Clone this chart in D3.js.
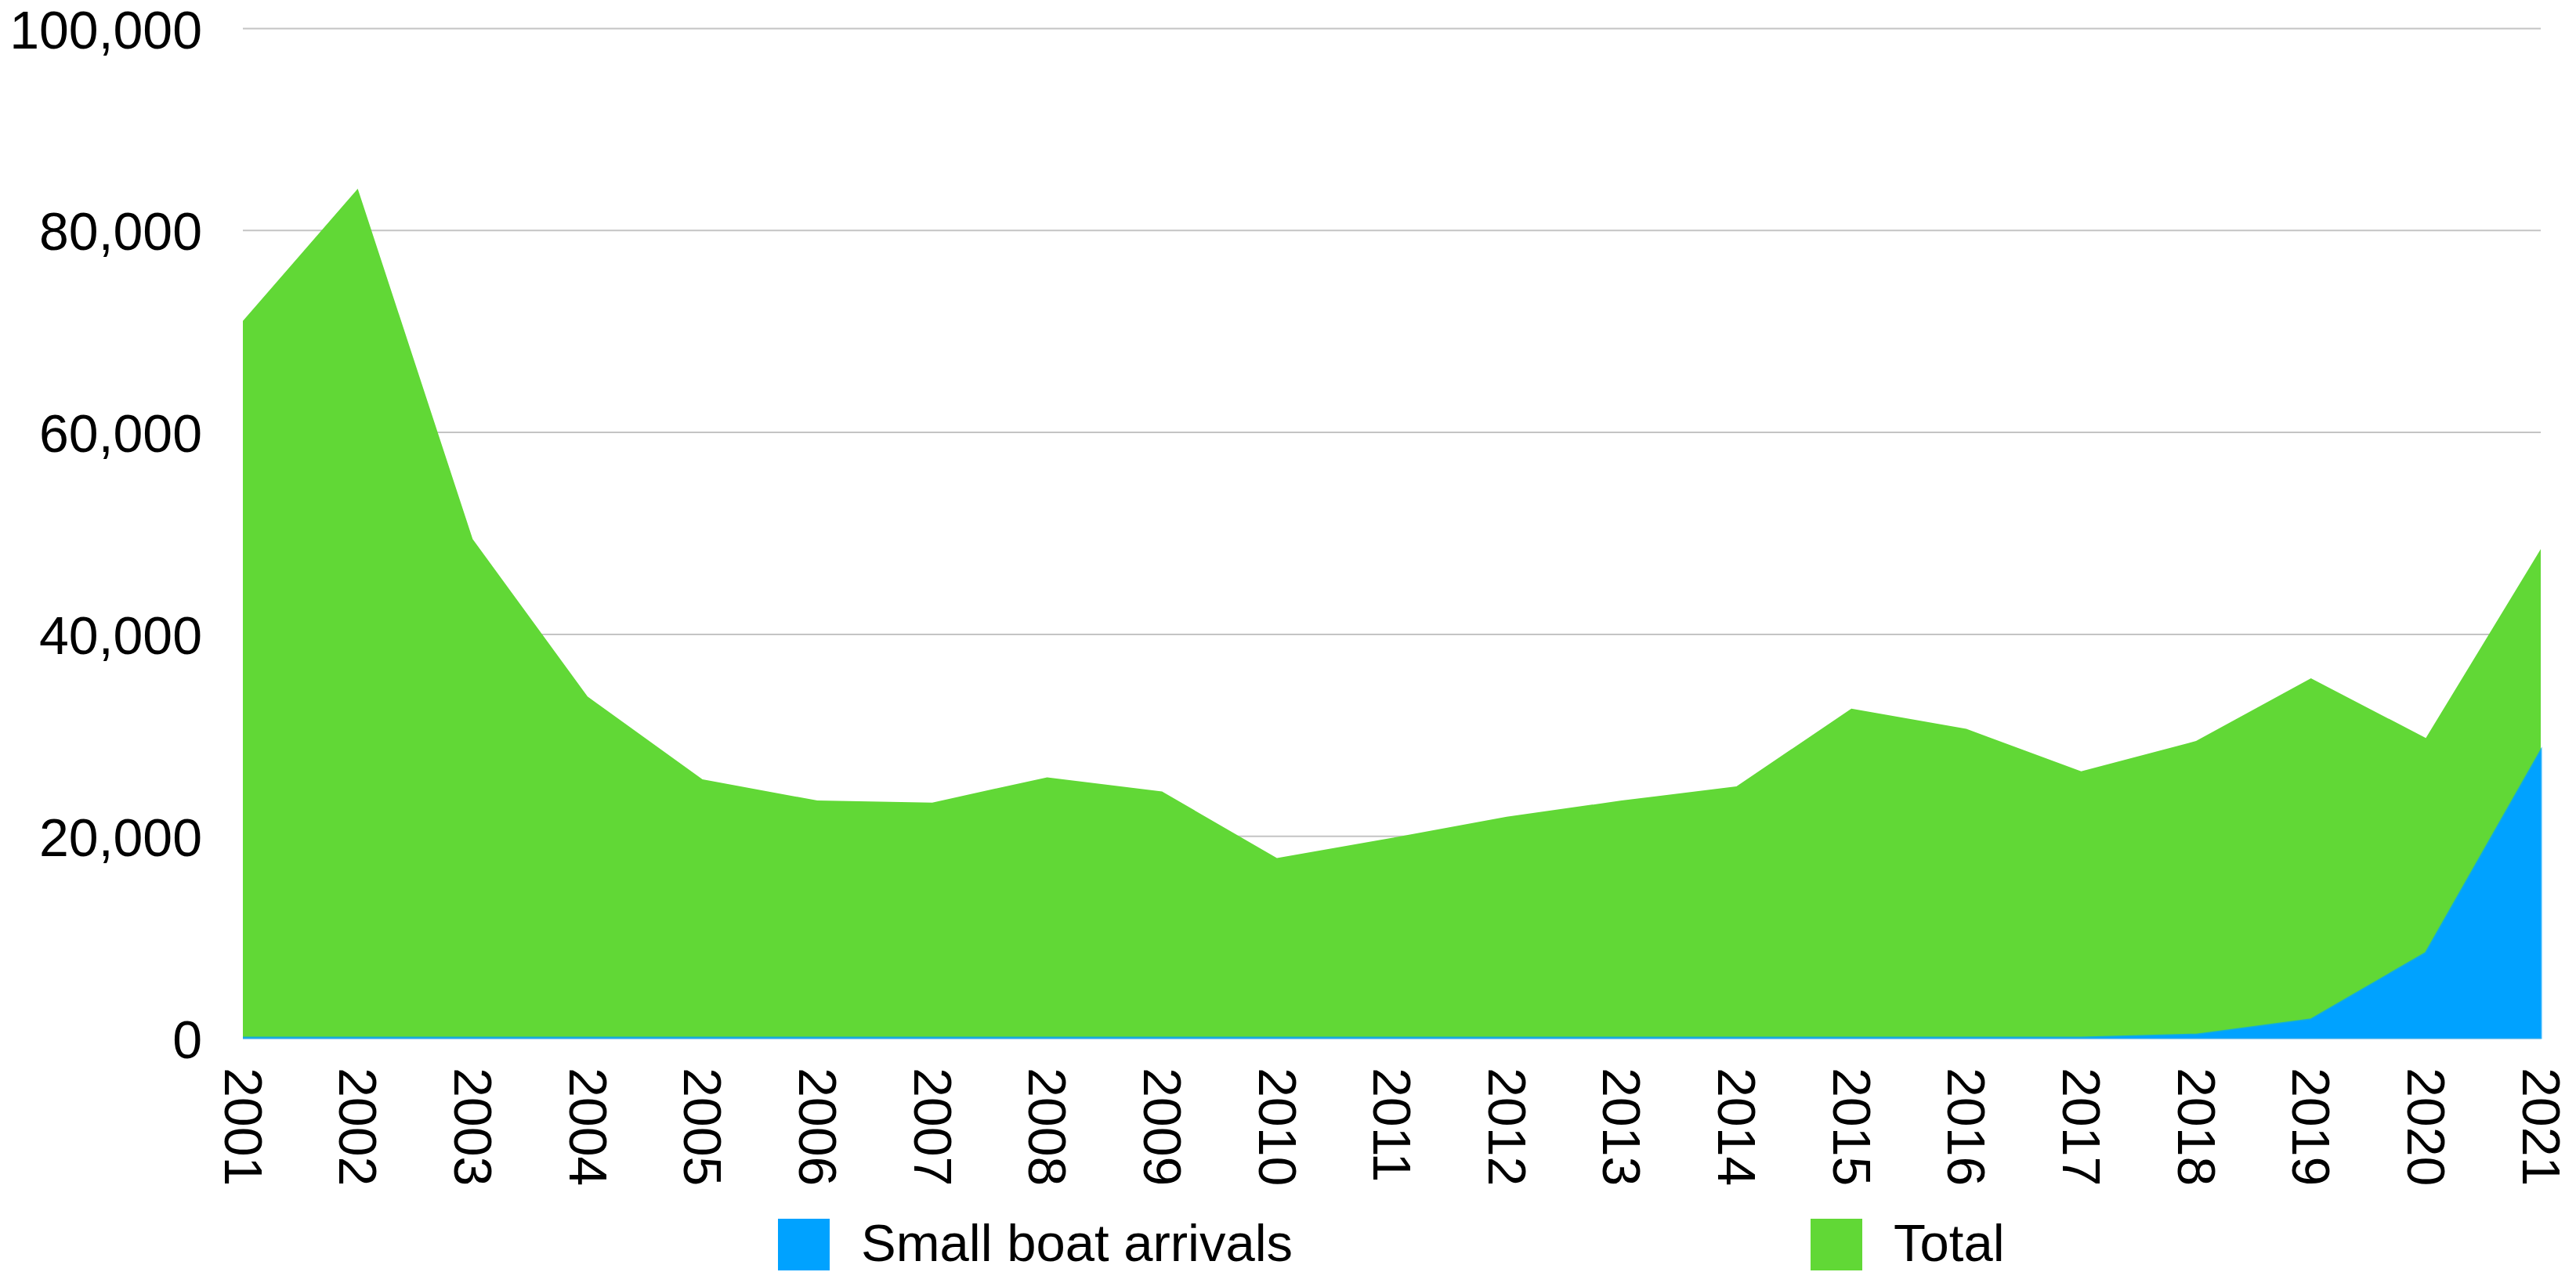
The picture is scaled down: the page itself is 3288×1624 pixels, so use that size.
<!DOCTYPE html>
<html>
<head>
<meta charset="utf-8">
<script src="https://cdn.jsdelivr.net/npm/d3@7"></script>
<style>
  body { margin: 0; background: #fff; }
  svg { display: block; font-family: "Liberation Sans", Arial, Helvetica, sans-serif; }
  .grid line { stroke: #c4c4c4; stroke-width: 2; }
  .axis text { fill: #000; font-size: 68px; }
</style>
</head>
<body>
<div id="chart"></div>
<script>
// data
var years = ["2001","2002","2003","2004","2005","2006","2007","2008","2009","2010",
             "2011","2012","2013","2014","2015","2016","2017","2018","2019","2020","2021"];
var total = [71000, 84100, 49400, 33800, 25600, 23500, 23300, 25800, 24400, 17800,
             19800, 21900, 23500, 24900, 32600, 30600, 26400, 29400, 35600, 29700, 48400];
var smallBoats = [0, 0, 0, 0, 0, 0, 0, 0, 0, 0,
                  0, 0, 0, 0, 0, 0, 0, 300, 1800, 8400, 28400];
var yTicks = [0, 20000, 40000, 60000, 80000, 100000];
var seriesNames = ["Small boat arrivals", "Total"];
var colors = ["#00A2FF", "#61D836"];

var W = 3288, H = 1624;
var margin = {top: 36, right: 45, bottom: 299, left: 310},
    width = W - margin.left - margin.right,
    height = H - margin.top - margin.bottom;

var svg = d3.select("#chart")
  .append("svg")
  .attr("width", W)
  .attr("height", H)
  .append("g")
  .attr("transform", "translate(" + margin.left + "," + margin.top + ")");

var x = d3.scalePoint()
  .domain(years)
  .range([0, width]);

var y = d3.scaleLinear()
  .domain([0, 100000])
  .range([height, 0]);

// gridlines + y labels
var yAxis = svg.append("g")
  .attr("class", "axis grid")
  .call(d3.axisLeft(y)
    .tickValues(yTicks)
    .tickSize(-width)
    .tickPadding(52)
    .tickFormat(d3.format(",")));
yAxis.select(".domain").remove();
yAxis.selectAll("text").attr("dy", "0.37em");

// areas (overlapping, total behind)
var rows = years.map(function(yr, i) {
  return {year: yr, total: total[i], boats: smallBoats[i]};
});

var areaTotal = d3.area()
  .x(function(d) { return x(d.year); })
  .y0(y(0))
  .y1(function(d) { return y(d.total); });

var areaBoats = d3.area()
  .x(function(d) { return x(d.year); })
  .y0(y(0))
  .y1(function(d) { return y(d.boats); });

svg.append("path")
  .datum(rows)
  .attr("fill", colors[1])
  .attr("d", areaTotal);

svg.append("path")
  .datum(rows)
  .attr("fill", colors[0])
  .attr("stroke", colors[0])
  .attr("stroke-width", 3)
  .attr("stroke-opacity", 0.8)
  .attr("d", areaBoats);

// x labels, rotated to read downwards
var xAxis = svg.append("g")
  .attr("class", "axis")
  .attr("transform", "translate(0," + height + ")")
  .call(d3.axisBottom(x).tickSize(0));
xAxis.select(".domain").remove();
xAxis.selectAll("text")
  .attr("x", 0)
  .attr("y", 0)
  .attr("dy", "0.35em")
  .attr("transform", "translate(0,38)rotate(90)")
  .style("text-anchor", "start");

// legend
var legendX = [993 - margin.left, 2311 - margin.left];
var legend = svg.append("g")
  .attr("transform", "translate(0," + (1556 - margin.top) + ")");

seriesNames.forEach(function(name, i) {
  legend.append("rect")
    .attr("x", legendX[i])
    .attr("y", 0)
    .attr("width", 66)
    .attr("height", 66)
    .attr("fill", colors[i]);
  legend.append("text")
    .attr("x", legendX[i] + 106)
    .attr("y", 54)
    .attr("font-size", "67px")
    .attr("fill", "#000")
    .text(name);
});
</script>
</body>
</html>
